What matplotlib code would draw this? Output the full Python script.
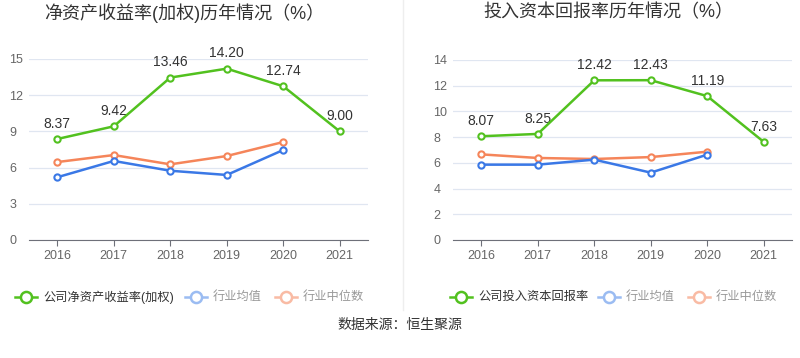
import matplotlib
matplotlib.use('Agg')
import matplotlib.pyplot as plt
from matplotlib.lines import Line2D

plt.rcParams['font.family'] = ['Liberation Sans', 'Noto Sans CJK SC', 'DejaVu Sans']

years = ['2016', '2017', '2018', '2019', '2020', '2021']

# ROE (weighted)
roe_company = [8.37, 9.42, 13.46, 14.20, 12.74, 9.00]
roe_ind_mean = [5.20, 6.55, 5.74, 5.39, 7.46]
roe_ind_median = [6.46, 7.04, 6.27, 6.96, 8.12]

# ROIC
roic_company = [8.07, 8.25, 12.42, 12.43, 11.19, 7.63]
roic_ind_mean = [5.86, 5.86, 6.25, 5.24, 6.64]
roic_ind_median = [6.66, 6.38, 6.30, 6.45, 6.87]

GREEN = '#52c11f'
BLUE = '#3a78e6'
ORANGE = '#f5855a'
W, H = 800, 358


def px_axes(fig, left, top, right, bottom):
    return fig.add_axes([left / W, (H - bottom) / H, (right - left) / W, (bottom - top) / H])


def draw_panel(ax, company, ind_mean, ind_median, ymax, step):
    x = list(range(len(years)))
    ax.plot(x[:len(ind_median)], ind_median, color=ORANGE, lw=1.8, marker='o', ms=4.5,
            mfc='white', mew=1.5, zorder=3)
    ax.plot(x[:len(ind_mean)], ind_mean, color=BLUE, lw=1.8, marker='o', ms=4.5,
            mfc='white', mew=1.5, zorder=3)
    ax.plot(x, company, color=GREEN, lw=1.8, marker='o', ms=4.5,
            mfc='white', mew=1.5, zorder=4)
    for i, v in enumerate(company):
        ax.annotate(f'{v:.2f}', xy=(i, v), xytext=(0, 6), textcoords='offset points',
                    ha='center', va='bottom', fontsize=10, color='#333333')
    ax.set_xlim(-0.5, len(years) - 0.5)
    ax.set_ylim(0, ymax)
    ax.set_yticks(range(0, ymax + 1, step))
    ax.set_xticks(x)
    ax.set_xticklabels(years)
    ax.tick_params(axis='x', length=4, color='#6e7079', labelsize=9, labelcolor='#666666', pad=3)
    ax.tick_params(axis='y', length=0, labelsize=9, labelcolor='#666666', pad=14)
    for lbl in ax.get_yticklabels():
        lbl.set_horizontalalignment('left')
    ax.grid(axis='y', color='#e0e6f1', lw=0.9)
    ax.set_axisbelow(True)
    for s in ['top', 'right', 'left']:
        ax.spines[s].set_visible(False)
    ax.spines['bottom'].set_color('#6e7079')


fig = plt.figure(figsize=(8, 3.58), dpi=100)

ax1 = px_axes(fig, 29, 59, 368, 240)
draw_panel(ax1, roe_company, roe_ind_mean, roe_ind_median, 15, 3)
ax2 = px_axes(fig, 453, 60, 792, 240)
draw_panel(ax2, roic_company, roic_ind_mean, roic_ind_median, 14, 2)

fig.text(184 / W, 1 - 13 / H, '净资产收益率(加权)历年情况（%）', ha='center', va='center',
         fontsize=13, color='#333333')
fig.text(608 / W, 1 - 13 / H, '投入资本回报率历年情况（%）', ha='center', va='center',
         fontsize=13, color='#333333')

# divider
fig.add_artist(Line2D([403 / W, 403 / W], [1 - 310 / H, 1], color='#eeeeee', lw=1))


def legend_item(x0, label, color, text_color):
    y = 1 - 297 / H
    fig.add_artist(Line2D([x0 / W, (x0 + 22) / W], [y, y], color=color, lw=1.8))
    fig.add_artist(Line2D([(x0 + 11) / W], [y], color=color, marker='o', ms=8,
                          mfc='white', mew=1.8))
    fig.text((x0 + 28) / W, y, label, ha='left', va='center', fontsize=8.8, color=text_color)


legend_item(15, '公司净资产收益率(加权)', GREEN, '#333333')
legend_item(185, '行业均值', '#9bbcf2', '#999999')
legend_item(275, '行业中位数', '#f9bba4', '#999999')
legend_item(450, '公司投入资本回报率', GREEN, '#333333')
legend_item(598, '行业均值', '#9bbcf2', '#999999')
legend_item(688, '行业中位数', '#f9bba4', '#999999')

fig.text(400 / W, 1 - 325 / H, '数据来源：恒生聚源', ha='center', va='center',
         fontsize=10, color='#333333')

fig.savefig('out.png', dpi=100)
